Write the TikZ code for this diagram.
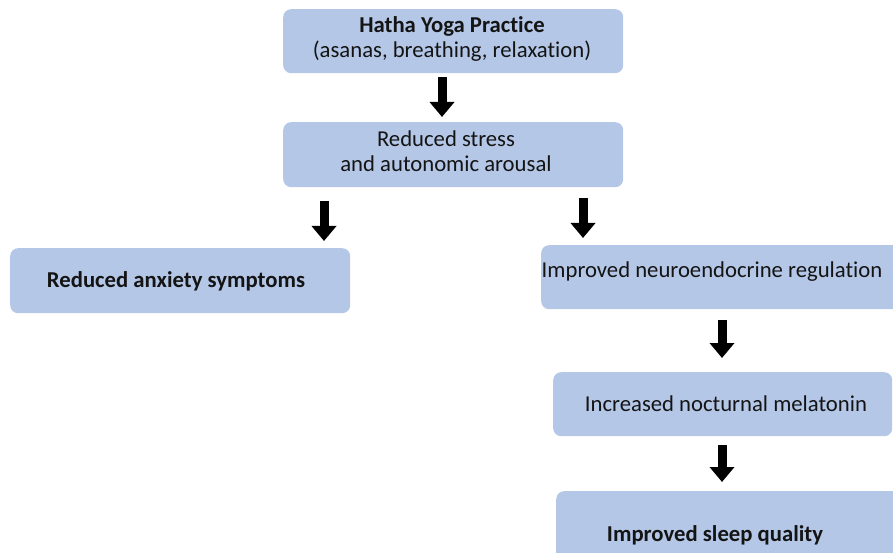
\documentclass[tikz,border=0pt]{standalone}
\usepackage{fontspec}
\setmainfont{Carlito}[Ligatures=NoCommon]
\usetikzlibrary{arrows.meta}
\definecolor{boxblue}{RGB}{180,199,231}
\definecolor{ink}{RGB}{20,20,20}
\begin{document}
\begin{tikzpicture}[x=1pt,y=-1pt,
  box/.style={fill=boxblue, draw=none, rounded corners=8pt, anchor=north west, inner sep=0pt},
  lbl/.style={font=\fontsize{22.7}{25.5}\selectfont, align=center, text=ink, inner sep=0pt},
  blockarrow/.style={draw=black, line width=9pt, -{Triangle[width=24pt,length=15pt]}}]
\path[use as bounding box] (0,0) rectangle (893,553);
\clip (0,0) rectangle (893,553);
% boxes
\node[box, minimum width=340pt, minimum height=64pt] (b1) at (283,9) {};
\node[box, minimum width=340pt, minimum height=65pt] (b2) at (283,122) {};
\node[box, minimum width=340pt, minimum height=65pt] (b3) at (10,248) {};
\node[box, minimum width=370pt, minimum height=64pt] (b4) at (541,245) {};
\node[box, minimum width=339pt, minimum height=64pt] (b5) at (553,372) {};
\node[box, minimum width=360pt, minimum height=80pt] (b6) at (556,491) {};
% labels
\node[lbl] (t1) at (452,39) {\textbf{Hatha Yoga Practice}\\(asanas, breathing, relaxation)};
\node[lbl] (t2) at (446,151) {Reduced stress\\and autonomic arousal};
\node[lbl] (t3) at (176,281) {\textbf{Reduced anxiety symptoms}};
\node[lbl] (t4) at (712,272) {Improved neuroendocrine regulation};
\node[lbl] (t5) at (726,404) {Increased nocturnal melatonin};
\node[lbl] (t6) at (715,535) {\textbf{Improved sleep quality}};
% arrow end points
\coordinate (a1s) at (442,77);  \coordinate (a1e) at (442,117);
\coordinate (a2s) at (324,201); \coordinate (a2e) at (324,241);
\coordinate (a3s) at (583,198); \coordinate (a3e) at (583,238);
\coordinate (a4s) at (722,320); \coordinate (a4e) at (722,358);
\coordinate (a5s) at (722,445); \coordinate (a5e) at (722,482);
\draw[blockarrow] (a1s) -- (a1e);
\draw[blockarrow] (a2s) -- (a2e);
\draw[blockarrow] (a3s) -- (a3e);
\draw[blockarrow] (a4s) -- (a4e);
\draw[blockarrow] (a5s) -- (a5e);
\end{tikzpicture}
\end{document}
